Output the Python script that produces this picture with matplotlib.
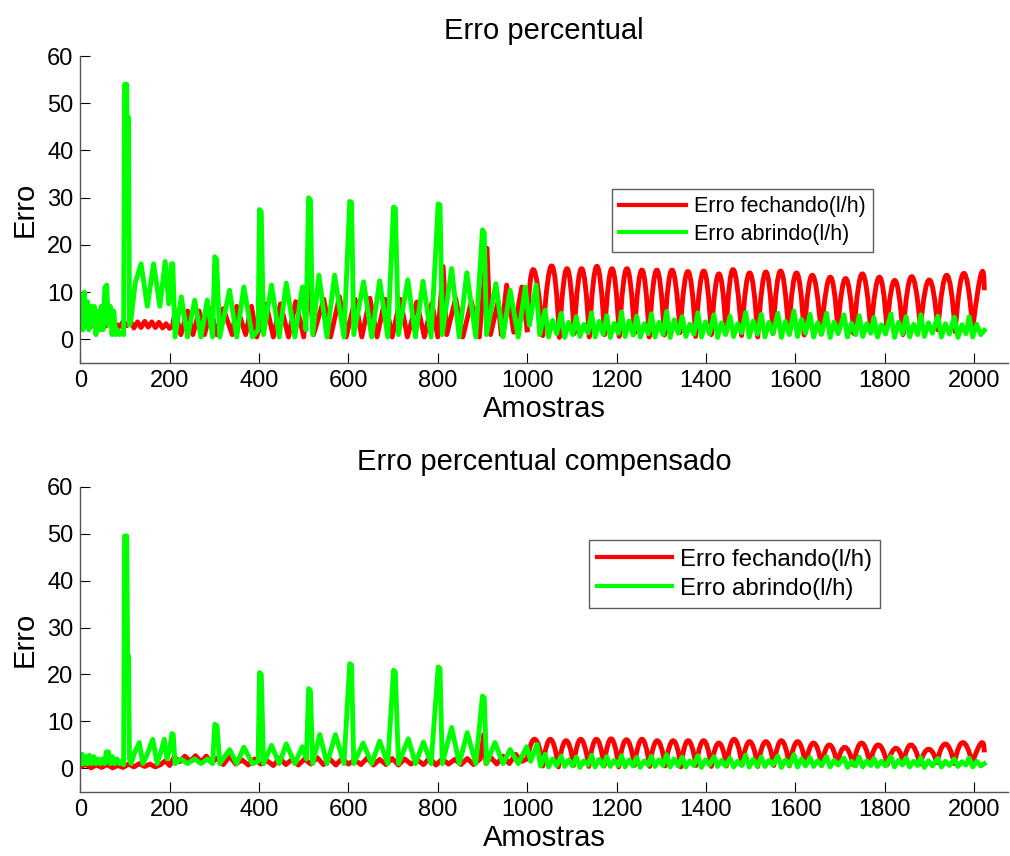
import numpy as np
import matplotlib
matplotlib.use("Agg")
import matplotlib.pyplot as plt
from matplotlib.path import Path
from matplotlib.patches import PathPatch

plt.rcParams['font.family'] = ['Liberation Sans', 'DejaVu Sans']

# ---------------- top panel: "Erro percentual" ----------------
# red (fechando), first 1000 samples
top_red_x = [0, 8, 16, 24, 32, 40, 48, 56, 64, 72, 80, 88, 96, 104, 112, 120, 128, 136,
             144, 152, 160, 168, 176, 184, 192, 200, 207,
             212, 225, 240, 252, 266, 278, 292, 305, 320, 340, 350, 370, 383, 395, 416, 432,
             448, 466, 482, 500, 512, 522, 545, 560, 580, 595, 615, 630, 648, 664, 682, 698,
             716, 732, 753, 770, 787, 800, 812, 820, 840, 856, 875, 893, 910, 918, 935, 942,
             954, 970, 988, 1000]
top_red_y = [3.5, 2.8, 3.6, 2.7, 3.4, 2.6, 3.5, 2.8, 3.3, 2.6, 3.2, 2.7, 3.8, 2.9, 3.9, 2.4,
             3.7, 2.5, 3.8, 2.6, 3.7, 2.5, 3.6, 2.4, 3.3, 2.3, 3.0,
             6, 1, 6, 1, 6, 1, 6.5, 1, 6.5, 1, 7, 1, 7, 0.5, 7.5, 0.5, 7.5, 0.5, 8, 0.5,
             12.5, 1, 8.5, 0.5, 9, 0.5, 8.5, 0.5, 8.7, 0.5, 8.5, 0.5, 8.5, 0.5, 7.9, 0.5,
             7.7, 0.5, 15.4, 1, 8.7, 0.5, 8, 0.5, 19.3, 1, 8, 1, 11.5, 1.5, 11.1, 2]
# red after 1000: one peak and one trough per cycle
top_red_peak_x = [1014, 1055, 1089, 1122, 1156, 1190, 1223, 1257, 1290, 1324, 1360, 1395,
                  1429, 1461, 1498, 1534, 1567, 1603, 1638, 1678, 1713, 1750, 1788, 1823,
                  1860, 1900, 1939, 1977, 2016]
top_red_peak_y = [14.8, 15.6, 15.0, 15.0, 15.5, 15.0, 15.0, 14.7, 14.7, 14.7, 14.4, 14.5,
                  13.9, 14.8, 14.1, 14.3, 14.5, 14.1, 13.6, 13.2, 12.9, 13.9, 13.2, 12.5,
                  13.3, 12.6, 13.6, 14.0, 13.9]
top_red_trough_x = [1035, 1072, 1105, 1139, 1173, 1206, 1240, 1273, 1307, 1342, 1377, 1412,
                    1445, 1480, 1516, 1550, 1585, 1620, 1658, 1695, 1731, 1769, 1805, 1841,
                    1880, 1919, 1958, 1997]
top_red_trough_y = [0.8, 0.4, 1.2, 0.5, 1.0, 0.6, 1.3, 0.5, 0.9, 1.4, 0.6, 1.0, 1.5, 0.8,
                    0.5, 1.2, 1.6, 0.9, 1.1, 2.0, 1.2, 1.5, 2.2, 1.0, 2.4, 2.0, 1.6, 2.3]
top_red_end = (2023, 10.4)

# green (abrindo), first ~1030 samples
top_green_x = [0, 3, 6, 9, 12, 16, 19, 23, 27, 31, 35, 39, 43, 47, 51, 55, 59, 63, 67, 71,
               75, 79, 83, 88, 93, 97,
               99, 104, 106, 108, 110, 113,
               123, 136, 150, 164, 178, 190, 198, 204, 207, 212,
               226, 240, 256, 270, 284, 296, 301, 305, 312, 334, 350, 366, 385, 398, 401, 405,
               410, 428, 445, 461, 480, 497, 505, 511, 515, 520, 534, 552, 569, 590, 603, 607,
               612, 634, 652, 670, 688, 701, 705, 712, 733, 750, 767, 785, 801, 805, 810, 831,
               848, 865, 885, 900, 904, 909, 930, 946, 962, 980, 996, 1005, 1020, 1028]
top_green_y = [3, 9, 2, 10, 4, 8, 2, 7, 3, 7, 1, 6, 2, 7, 2, 11, 11.5, 3, 7, 1, 6, 1, 2, 1,
               1.5, 1,
               54, 54, 22, 47, 3, 4,
               12, 16, 7, 16, 7, 16.5, 7.5, 16, 16, 0.5,
               9, 0.5, 8.3, 0.5, 8.3, 0.5, 17.5, 17, 0.5, 10.4, 0.5, 11.1, 0.5, 2, 27.5, 27,
               1, 11.5, 0.5, 11.9, 0.5, 11.1, 2, 30, 29.5, 1, 13.6, 0.5, 13.6, 0.5, 29.2, 29,
               1, 12.2, 0.5, 12.4, 0.5, 28, 27.8, 1, 12.6, 0.5, 12.3, 0.5, 28.7, 28.5, 1, 15,
               0.5, 14.1, 0.5, 23.2, 22.5, 1, 11.8, 0.5, 10.4, 0.5, 11.1, 3, 11.5, 1]
# green after 1000: main peak, dip, small peak, dip in every cycle
green_peak_x = [1040, 1076, 1110, 1144, 1178, 1211, 1245, 1278, 1312, 1347, 1382, 1418,
                1454, 1489, 1524, 1561, 1597, 1633, 1670, 1709, 1743, 1776, 1814, 1848,
                1881, 1919, 1956, 1989]
green_dip1_x = [1048, 1084, 1118, 1152, 1186, 1219, 1253, 1286, 1320, 1355, 1390, 1426,
                1462, 1497, 1532, 1569, 1605, 1641, 1678, 1717, 1751, 1784, 1822, 1856,
                1889, 1927, 1964, 1997]
green_sub_x = [1057, 1093, 1127, 1161, 1195, 1228, 1262, 1295, 1329, 1364, 1399, 1435,
               1471, 1506, 1541, 1578, 1614, 1650, 1687, 1726, 1760, 1793, 1831, 1865,
               1898, 1936, 1973, 2006]
green_dip2_x = [1066, 1102, 1136, 1170, 1204, 1237, 1271, 1304, 1338, 1373, 1408, 1444,
                1480, 1515, 1550, 1587, 1623, 1659, 1696, 1735, 1769, 1802, 1840, 1874,
                1907, 1945, 1982, 2015]
top_green_peak_y = [6.2, 5.5, 4.8, 5.6, 5.0, 5.8, 4.9, 5.4, 5.9, 4.8, 5.6, 5.2, 4.9, 5.7,
                    5.3, 5.5, 6.0, 5.3, 5.5, 5.2, 5.0, 4.6, 5.4, 4.8, 5.2, 4.9, 4.7, 4.8]
top_green_dip1_y = [0.5, 0.4, 0.6, 0.5, 0.4, 0.6, 0.5, 0.5, 0.4, 0.6, 0.5, 0.4, 0.6, 0.5,
                    0.5, 0.4, 0.6, 0.5, 0.4, 0.5, 0.6, 0.5, 0.4, 0.5, 0.6, 0.5, 0.4, 0.5]
top_green_sub_y = [4.0, 3.6, 3.2, 3.8, 3.4, 3.9, 3.3, 3.6, 4.1, 3.2, 3.7, 3.5, 3.3, 3.9,
                   3.6, 3.8, 4.2, 3.5, 3.7, 3.4, 3.3, 3.1, 3.6, 3.2, 3.5, 3.3, 3.1, 3.2]
top_green_dip2_y = [1.2, 1.0, 1.4, 1.1, 1.3, 0.9, 1.2, 1.0, 1.3, 1.1, 1.2, 1.0, 1.4, 1.1,
                    1.2, 1.0, 1.3, 1.1, 1.2, 1.0, 1.3, 1.1, 1.2, 1.0, 1.3, 1.1, 1.2, 1.0]
top_green_end = (2023, 1.9)

# ---------------- bottom panel: "Erro percentual compensado" ----------------
bot_red_x = [0, 12, 24, 36, 48, 60, 72, 84, 96, 108, 120, 132, 144, 156, 168, 180, 190, 200,
             210, 222, 234, 246, 258, 270, 282, 294, 306, 320, 334, 348, 362, 376, 390, 404,
             418, 432, 446, 460, 474, 488, 502, 516, 530, 544, 558, 572, 586, 600, 614, 628,
             642, 656, 670, 684, 698, 712, 726, 740, 754, 768, 782, 796, 810, 824, 838, 852,
             866, 880, 895, 903, 908, 918, 932, 946, 960, 974, 988, 1000]
bot_red_y = [0.3, 0.9, 0.1, 0.7, 0.2, 0.8, 0.1, 0.6, 0.2, 0.9, 0.3, 1.0, 0.4, 0.9, 0.3, 0.8,
             1.6, 0.6, 2.4, 1.4, 2.6, 1.5, 2.7, 1.4, 2.6, 1.2, 2.2, 0.8, 2.6, 0.9, 1.8, 0.7,
             2.0, 0.9, 1.6, 0.6, 2.2, 0.8, 1.9, 0.7, 2.0, 0.9, 2.3, 0.8, 2.0, 0.7, 2.1, 0.9,
             1.8, 0.8, 2.2, 0.7, 1.9, 0.8, 2.1, 0.7, 2.0, 0.9, 1.8, 0.8, 2.2, 0.7, 2.0, 0.9,
             1.9, 0.8, 2.1, 0.8, 2.0, 7.2, 1.0, 2.4, 0.9, 2.6, 1.0, 3.0, 1.5, 2.0]
bot_red_peak_x = [1018, 1052, 1087, 1120, 1155, 1188, 1222, 1257, 1291, 1327, 1360, 1395,
                  1429, 1463, 1498, 1534, 1569, 1605, 1641, 1676, 1711, 1748, 1786, 1825,
                  1859, 1898, 1936, 1975, 2016]
bot_red_peak_y = [6.2, 6.2, 5.9, 6.2, 6.2, 6.3, 6.1, 6.2, 5.9, 5.9, 5.9, 5.9, 5.4, 6.2, 5.7,
                  5.7, 5.9, 5.7, 5.4, 5.0, 4.5, 5.4, 5.0, 4.3, 5.0, 4.1, 5.2, 5.5, 5.4]
bot_red_trough_x = [1035, 1070, 1104, 1138, 1172, 1205, 1240, 1274, 1309, 1344, 1378, 1412,
                    1446, 1481, 1516, 1552, 1587, 1623, 1659, 1694, 1730, 1767, 1806, 1842,
                    1879, 1917, 1956, 1996]
bot_red_trough_y = [0.5, 0.3, 0.6, 0.4, 0.5, 0.3, 0.6, 0.4, 0.5, 0.3, 0.6, 0.4, 0.5, 0.7,
                    0.4, 0.6, 0.5, 0.8, 0.6, 0.9, 0.7, 1.0, 0.8, 1.1, 0.9, 1.2, 1.0, 1.1]
bot_red_end = (2023, 3.4)

bot_green_x = [0, 4, 8, 12, 16, 20, 25, 30, 35, 40, 45, 50, 55, 58, 63, 67, 72, 77, 82, 88,
               93, 97,
               99, 104, 106, 108, 110, 114,
               120, 132, 140, 150, 162, 172, 182, 188, 194, 200, 205, 208, 212,
               225, 240, 256, 270, 285, 296, 301, 306, 312, 334, 350, 366, 385, 398, 401, 405,
               410, 428, 445, 461, 480, 497, 506, 511, 515, 520, 536, 552, 571, 590, 603, 607,
               612, 633, 652, 670, 688, 701, 705, 712, 734, 750, 768, 785, 801, 805, 810, 831,
               848, 866, 885, 900, 904, 909, 928, 946, 962, 980, 999, 1008, 1022, 1030]
bot_green_y = [1, 3, 1, 2.5, 1, 2.8, 1, 2.5, 1, 2, 1, 2, 1, 3.5, 3.5, 1, 2.5, 1, 2, 1, 1.5, 0.8,
               49.5, 49.5, 23, 24, 2, 1,
               3, 5.5, 1, 3, 6.2, 1, 4, 6.2, 2, 4, 7.4, 7.2, 1,
               2, 1, 2, 1, 2, 1, 9.4, 9, 1, 4, 1, 4.5, 1, 1.5, 20.4, 20, 1, 4.9, 1, 5.2, 1,
               4.6, 2, 17, 16.5, 1, 7.2, 1, 7.2, 1, 22.3, 22, 1, 5.4, 1, 5.8, 1, 20.9, 20.5,
               1, 6.3, 1, 5.6, 1, 21.6, 21.3, 1, 8.7, 1, 7.6, 1, 15.4, 15, 1, 5.5, 1, 4, 1,
               4.6, 1.5, 5.1, 0.5]
bot_green_peak_y = [3.0, 2.6, 2.4, 2.8, 2.5, 2.7, 2.3, 2.6, 2.9, 2.4, 2.7, 2.5, 2.2, 2.8,
                    2.4, 2.6, 2.9, 2.3, 2.5, 2.2, 2.4, 2.1, 2.5, 2.2, 2.3, 2.1, 2.0, 2.2]
bot_green_dip1_y = [0.3, 0.4, 0.2, 0.3, 0.4, 0.3, 0.2, 0.4, 0.3, 0.3, 0.2, 0.4, 0.3, 0.3,
                    0.4, 0.2, 0.3, 0.4, 0.3, 0.2, 0.3, 0.4, 0.3, 0.3, 0.2, 0.3, 0.4, 0.3]
bot_green_sub_y = [2.0, 1.8, 1.6, 1.9, 1.7, 1.8, 1.6, 1.8, 2.0, 1.6, 1.8, 1.7, 1.5, 1.9,
                   1.7, 1.8, 2.0, 1.6, 1.7, 1.5, 1.6, 1.5, 1.7, 1.5, 1.6, 1.5, 1.4, 1.5]
bot_green_dip2_y = [0.6, 0.5, 0.7, 0.5, 0.6, 0.5, 0.7, 0.6, 0.5, 0.6, 0.7, 0.5, 0.6, 0.5,
                    0.7, 0.6, 0.5, 0.6, 0.7, 0.5, 0.6, 0.5, 0.7, 0.6, 0.5, 0.6, 0.7, 0.5]
bot_green_end = (2023, 1.0)

titles = ['Erro percentual', 'Erro percentual compensado']
legend_labels = ['Erro fechando(l/h)', 'Erro abrindo(l/h)']
x_ticks = list(range(0, 2001, 200))
y_ticks = list(range(0, 61, 10))

RED = '#ff0000'
GREEN = '#00ff00'
LW = 3.5


def join_cycles(head_x, head_y, stages, end):
    """Chain the free-form head with the per-cycle vertices, stage by stage."""
    xs = list(head_x)
    ys = list(head_y)
    for i in range(len(stages[0][0])):
        for sx, sy in stages:
            xs.append(sx[i])
            ys.append(sy[i])
    xs.append(end[0])
    ys.append(end[1])
    return np.array(xs), np.array(ys)


def hump_path(start, peak_x, peak_y, trough_x, trough_y, end):
    """Rounded humps: one quadratic Bezier per cycle that passes through each peak."""
    feet = [start] + list(zip(trough_x, trough_y)) + [end]
    verts = [start]
    codes = [Path.MOVETO]
    for i in range(len(peak_x)):
        a, b = feet[i], feet[i + 1]
        cx = 2 * peak_x[i] - (a[0] + b[0]) / 2
        cy = 2 * peak_y[i] - (a[1] + b[1]) / 2
        verts += [(cx, cy), b]
        codes += [Path.CURVE3, Path.CURVE3]
    return Path(verts, codes)


panels = [
    dict(red_head=(top_red_x, top_red_y),
         red_cycles=(top_red_peak_x, top_red_peak_y, top_red_trough_x, top_red_trough_y,
                     top_red_end),
         green=join_cycles(top_green_x, top_green_y,
                           [(green_peak_x, top_green_peak_y), (green_dip1_x, top_green_dip1_y),
                            (green_sub_x, top_green_sub_y), (green_dip2_x, top_green_dip2_y)],
                           top_green_end)),
    dict(red_head=(bot_red_x, bot_red_y),
         red_cycles=(bot_red_peak_x, bot_red_peak_y, bot_red_trough_x, bot_red_trough_y,
                     bot_red_end),
         green=join_cycles(bot_green_x, bot_green_y,
                           [(green_peak_x, bot_green_peak_y), (green_dip1_x, bot_green_dip1_y),
                            (green_sub_x, bot_green_sub_y), (green_dip2_x, bot_green_dip2_y)],
                           bot_green_end)),
]

fig = plt.figure(figsize=(10.10, 8.56), dpi=100)
axes = [fig.add_axes([0.0795, 0.576, 0.9185, 0.3585]),
        fig.add_axes([0.0795, 0.075, 0.9185, 0.3564])]
legend_pos = [(0.573, 0.567), (0.548, 0.825)]
legend_size = [15.5, 17.3]

for ax, p, title, lpos, lsize in zip(axes, panels, titles, legend_pos, legend_size):
    hx, hy = p['red_head']
    ax.plot(hx, hy, color=RED, lw=LW, label=legend_labels[0], solid_joinstyle='round')
    pk_x, pk_y, tr_x, tr_y, end = p['red_cycles']
    ax.add_patch(PathPatch(hump_path((hx[-1], hy[-1]), pk_x, pk_y, tr_x, tr_y, end),
                           fill=False, edgecolor=RED, lw=LW, joinstyle='round'))
    gx, gy = p['green']
    ax.plot(gx, gy, color=GREEN, lw=LW, label=legend_labels[1], solid_joinstyle='round')

    ax.set_xlim(0, 2076)
    ax.set_ylim(-5, 60)
    ax.set_xticks(x_ticks)
    ax.set_yticks(y_ticks)
    ax.tick_params(direction='in', length=7, width=0.8, labelsize=17, pad=5)
    for side in ['top', 'right']:
        ax.spines[side].set_visible(False)
    for side in ['left', 'bottom']:
        ax.spines[side].set_color('#555555')
        ax.spines[side].set_linewidth(1.0)
    ax.set_title(title, fontsize=21, pad=12)
    ax.set_xlabel('Amostras', fontsize=21, labelpad=2)
    ax.set_ylabel('Erro', fontsize=21, labelpad=6)
    leg = ax.legend(loc='upper left', bbox_to_anchor=lpos, fontsize=lsize, frameon=True,
                    fancybox=False, edgecolor='#333333', handlelength=3.1,
                    handletextpad=0.35, borderpad=0.35, labelspacing=0.3, borderaxespad=0)
    leg.get_frame().set_linewidth(1.0)
    for line in leg.get_lines():
        line.set_linewidth(3)

fig.savefig('out.png', dpi=100, facecolor='white')
